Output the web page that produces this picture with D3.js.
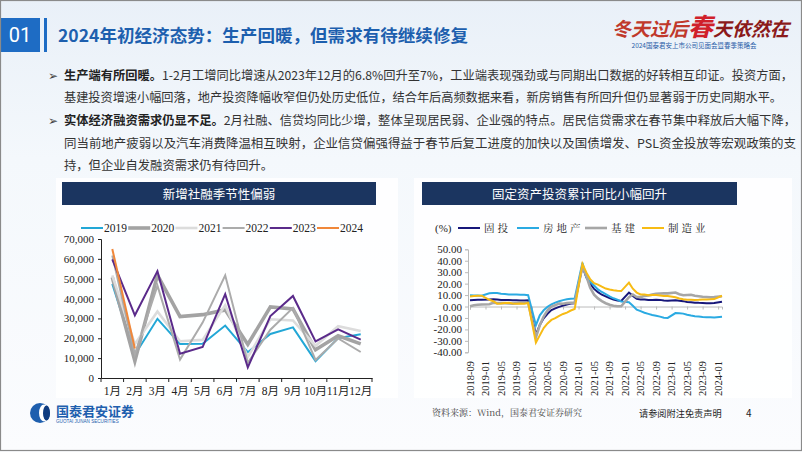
<!DOCTYPE html>
<html lang="zh">
<head>
<meta charset="UTF-8">
<title>2024年初经济态势</title>
<script src="https://d3js.org/d3.v7.min.js"></script>
<style>
  body { margin: 0; background: #fff; }
  svg { display: block; font-family: "Noto Sans CJK SC", sans-serif; }
</style>
</head>
<body>
<div id="slide"></div>
<script>
// ---- left chart: 新增社融 (亿元) ----
const monthLabels = ["1月","2月","3月","4月","5月","6月","7月","8月","9月","10月","11月","12月"];
const tsfYears = ["2019","2020","2021","2022","2023","2024"];
const tsf2019 = [47400, 11700, 29800, 17100, 17200, 26400, 13000, 22200, 25500, 8500, 20100, 22000];
const tsf2020 = [50700, 8600, 51800, 30900, 31900, 34300, 16900, 35800, 34800, 14200, 21300, 17200];
const tsf2021 = [51700, 17100, 33500, 18500, 19200, 36700, 10600, 29600, 29000, 16200, 26100, 23700];
const tsf2022 = [61700, 11900, 46500, 9300, 27900, 51700, 7600, 24300, 35300, 9100, 19900, 13100];
const tsf2023 = [59800, 31600, 53800, 12200, 15600, 42200, 5300, 31200, 41300, 18400, 24500, 19300];
const tsf2024 = [65000, 14900];

// ---- right chart: 固定资产投资累计同比 (%) ----
const faiDates = [
  "2018-09","2018-10","2018-11","2018-12",
  "2019-02","2019-03","2019-04","2019-05","2019-06","2019-07","2019-08","2019-09","2019-10","2019-11","2019-12",
  "2020-02","2020-03","2020-04","2020-05","2020-06","2020-07","2020-08","2020-09","2020-10","2020-11","2020-12",
  "2021-02","2021-03","2021-04","2021-05","2021-06","2021-07","2021-08","2021-09","2021-10","2021-11","2021-12",
  "2022-02","2022-03","2022-04","2022-05","2022-06","2022-07","2022-08","2022-09","2022-10","2022-11","2022-12",
  "2023-02","2023-03","2023-04","2023-05","2023-06","2023-07","2023-08","2023-09","2023-10","2023-11","2023-12",
  "2024-02"
];
const faiTotal = [5.4,5.7,5.9,5.9, 6.1,6.3,6.1,5.6,5.8,5.7,5.5,5.4,5.2,5.2,5.4,
  -24.5,-16.1,-10.3,-6.3,-3.1,-1.6,-0.3,0.8,1.8,2.6,2.9,
  35.0,25.6,19.9,15.4,12.6,10.3,8.9,7.3,6.1,5.2,4.9,
  12.2,9.3,6.8,6.2,6.1,5.7,5.8,5.9,5.8,5.3,5.1,
  5.5,5.1,4.7,4.0,3.8,3.4,3.2,3.1,2.9,2.9,3.0, 4.2];
const faiRealEstate = [9.9,9.7,9.7,9.5, 11.6,11.8,11.9,11.2,10.9,10.6,10.5,10.5,10.3,10.2,9.9,
  -16.3,-7.7,-3.3,-0.3,1.9,3.4,4.6,5.6,6.3,6.8,7.0,
  38.3,25.6,21.6,18.3,15.0,12.7,10.9,8.8,7.2,6.0,4.4,
  3.7,0.7,-2.7,-4.0,-5.4,-6.4,-7.4,-8.0,-8.8,-9.8,-10.0,
  -5.7,-5.8,-6.2,-7.2,-7.9,-8.5,-8.8,-9.1,-9.3,-9.4,-9.6, -9.0];
const faiInfra = [0.3,1.1,1.5,1.8, 2.0,3.3,3.0,3.1,3.0,2.6,2.5,3.0,3.2,3.3,3.3,
  -26.9,-16.4,-8.8,-3.3,-0.1,1.2,2.5,2.4,3.0,3.3,3.4,
  35.0,26.8,16.4,10.4,7.1,4.7,2.9,1.5,0.7,0.2,0.2,
  8.1,10.5,8.3,8.2,9.3,9.6,10.4,11.2,11.4,11.6,11.5,
  12.2,10.8,9.8,10.1,10.2,9.4,9.0,8.6,8.3,8.0,8.2, 9.0];
const faiManufacturing = [8.7,9.1,9.5,9.5, 5.9,4.6,2.5,2.7,3.0,3.3,2.6,2.5,2.6,2.5,3.1,
  -31.5,-25.2,-18.8,-14.8,-11.7,-10.2,-8.1,-6.5,-5.3,-3.5,-2.2,
  37.3,29.8,23.8,20.4,19.2,17.3,15.7,14.8,14.2,13.7,13.5,
  20.9,15.6,12.2,10.6,10.4,9.9,10.0,10.1,9.7,9.3,9.1,
  8.1,7.0,6.4,6.0,6.0,5.7,5.9,6.2,6.2,6.3,6.5, 9.4];
const faiNames = ["固投","房地产","基建","制造业"];
const faiTickLabels = ["2018-09","2019-01","2019-05","2019-09","2020-01","2020-05","2020-09",
  "2021-01","2021-05","2021-09","2022-01","2022-05","2022-09","2023-01","2023-05","2023-09","2024-01"];

// ---- slide text ----
const titleText = "2024年初经济态势：生产回暖，但需求有待继续修复";
const bullets = [
  { bold: "生产端有所回暖。", rest: "1-2月工增同比增速从2023年12月的6.8%回升至7%，工业端表现强劲或与同期出口数据的好转相互印证。投资方面，", len: 729, y: 80, mark: true },
  { bold: "", rest: "基建投资增速小幅回落，地产投资降幅收窄但仍处历史低位，结合年后高频数据来看，新房销售有所回升但仍显著弱于历史同期水平。", len: 718, y: 102 },
  { bold: "实体经济融资需求仍显不足。", rest: "2月社融、信贷均同比少增，整体呈现居民弱、企业强的特点。居民信贷需求在春节集中释放后大幅下降，", len: 732, y: 125, mark: true },
  { bold: "", rest: "同当前地产疲弱以及汽车消费降温相互映射，企业信贷偏强得益于春节后复工进度的加快以及国债增发、PSL资金投放等宏观政策的支", len: 732, y: 148 },
  { bold: "", rest: "持，但企业自发融资需求仍有待回升。", len: null, y: 170 }
];

const W = 802, H = 452;
const svg = d3.select("#slide").append("svg").attr("width", W).attr("height", H);

// background
const defs = svg.append("defs");
const bg = defs.append("linearGradient").attr("id", "bg").attr("x1", 0).attr("y1", 0).attr("x2", 0).attr("y2", 1);
bg.append("stop").attr("offset", "0%").attr("stop-color", "#e9f0f8");
bg.append("stop").attr("offset", "35%").attr("stop-color", "#f4f8fc");
bg.append("stop").attr("offset", "100%").attr("stop-color", "#fbfcfe");
svg.append("rect").attr("width", W).attr("height", H).attr("fill", "url(#bg)");

// header
svg.append("rect").attr("x", 0).attr("y", 18).attr("width", 40).attr("height", 34).attr("fill", "#1e6cc4");
svg.append("text").attr("x", 20).attr("y", 42).attr("text-anchor", "middle")
  .attr("fill", "#fff").attr("font-size", 20).attr("font-family", "Roboto, sans-serif").text("01");
svg.append("rect").attr("x", 44).attr("y", 18).attr("width", 3).attr("height", 34).attr("fill", "#1e6cc4");
svg.append("text").attr("x", 58).attr("y", 42).attr("fill", "#1d5fae")
  .attr("font-size", 17).attr("font-weight", "bold")
  .attr("textLength", 410).attr("lengthAdjust", "spacingAndGlyphs").text(titleText);

// logo top-right
const logo = svg.append("g").attr("transform", "translate(612,12)");
logo.append("text").attr("x", 0).attr("y", 24).attr("font-size", 21).attr("font-style", "italic")
  .attr("font-weight", "bold").attr("font-family", "'Noto Sans CJK SC', serif")
  .selectAll("tspan").data([["冬天过后", "#c0392b"], ["春", "#d0202a"], ["天依然在", "#8b1a1a"]])
  .join("tspan").attr("fill", d => d[1]).attr("font-size", (d, i) => i === 1 ? 25 : 19).text(d => d[0]);
logo.append("text").attr("x", 82).attr("y", 36).attr("text-anchor", "middle").attr("font-size", 6.5)
  .attr("fill", "#2a5da8").text("2024国泰君安上市公司见面会暨春季策略会");

// bullet text
bullets.forEach(b => {
  if (b.mark) {
    svg.append("text").attr("x", 48).attr("y", b.y).attr("font-size", 12).attr("fill", "#444").text("➢");
  }
  const t = svg.append("text").attr("x", 64).attr("y", b.y).attr("font-size", 12.3).attr("fill", "#333");
  if (b.len) t.attr("textLength", b.len).attr("lengthAdjust", "spacingAndGlyphs");
  if (b.bold) t.append("tspan").attr("font-weight", "bold").attr("fill", "#222").text(b.bold);
  t.append("tspan").text(b.rest);
});

// chart panels
[[56, 178, 342, 220], [414, 178, 378, 220]].forEach(p => {
  svg.append("rect").attr("x", p[0]).attr("y", p[1]).attr("width", p[2]).attr("height", p[3])
    .attr("fill", "#ffffff").attr("opacity", 0.85);
});
function titleBar(x, w, label) {
  svg.append("rect").attr("x", x).attr("y", 182).attr("width", w).attr("height", 23).attr("fill", "#1b3560");
  svg.append("text").attr("x", x + w / 2).attr("y", 198.5).attr("text-anchor", "middle")
    .attr("fill", "#fff").attr("font-size", 12.5).text(label);
}
titleBar(62, 314, "新增社融季节性偏弱");
titleBar(422, 315, "固定资产投资累计同比小幅回升");

// ================= left chart =================
const serif = "'Liberation Serif', 'Noto Sans CJK SC', serif";
const tsfSeries = [tsf2019, tsf2020, tsf2021, tsf2022, tsf2023, tsf2024];
const tsfColors = ["#22a7d6", "#a3a3a3", "#dcdcdc", "#ababab", "#5a2a8a", "#f0873a"];
const tsfWidths = [2, 3.6, 2.6, 2, 2, 2];

const x = d3.scaleBand().domain(monthLabels).range([101, 372]);
const y = d3.scaleLinear().domain([0, 70000]).range([378, 239]);

const gL = svg.append("g");
const yAx = gL.append("g").attr("transform", "translate(101,0)")
  .call(d3.axisLeft(y).tickValues(d3.range(0, 70001, 10000)).tickFormat(d3.format(",")).tickSize(3).tickPadding(4));
yAx.selectAll("text").attr("font-family", serif).attr("font-size", 11).attr("fill", "#222");
yAx.selectAll("line, path").attr("stroke", "#222");

const xAx = gL.append("g").attr("transform", "translate(0,378)")
  .call(d3.axisBottom(x).tickSize(0).tickPadding(9));
xAx.select("path").attr("stroke", "#222");
xAx.selectAll("text").attr("font-family", serif).attr("font-size", 11.5).attr("fill", "#222");
// excel-style ticks between the categories
gL.append("g").selectAll("line").data(monthLabels.concat(["end"])).join("line")
  .attr("x1", d => d === "end" ? x.range()[1] : x(d))
  .attr("x2", d => d === "end" ? x.range()[1] : x(d))
  .attr("y1", 378).attr("y2", 382).attr("stroke", "#222");

const lineL = d3.line().x((d, i) => x(monthLabels[i]) + x.bandwidth() / 2).y(d => y(d));
gL.selectAll("path.tsf").data(tsfSeries).join("path").attr("class", "tsf")
  .attr("d", lineL).attr("fill", "none")
  .attr("stroke", (d, i) => tsfColors[i]).attr("stroke-width", (d, i) => tsfWidths[i])
  .attr("stroke-linejoin", "miter");

const legL = gL.append("g").selectAll("g").data(tsfYears).join("g")
  .attr("transform", (d, i) => `translate(${81 + i * 47.2},228)`);
legL.append("line").attr("x1", 0).attr("x2", 22)
  .attr("stroke", (d, i) => tsfColors[i]).attr("stroke-width", (d, i) => tsfWidths[i]);
legL.append("text").attr("x", 23).attr("y", 4).attr("font-family", serif).attr("font-size", 11.5)
  .attr("fill", "#222").text(d => d);

// ================= right chart =================
const faiSeries = [faiTotal, faiRealEstate, faiInfra, faiManufacturing];
const faiColors = ["#17177a", "#2aaae2", "#a6a6a6", "#f7bb14"];
const faiWidths = [2, 2, 2.6, 2];
const monthIndex = s => (+s.slice(0, 4) - 2018) * 12 + (+s.slice(5, 7) - 9);

const xr = d3.scaleLinear().domain([0, 65]).range([470, 722]);
const yr = d3.scaleLinear().domain([-40, 50]).range([352.3, 249.3]);

const gR = svg.append("g");
const yAxR = gR.append("g").attr("transform", "translate(468,0)")
  .call(d3.axisLeft(yr).tickValues(d3.range(-40, 51, 10)).tickFormat(d3.format(".2f")).tickSize(3).tickPadding(3));
yAxR.selectAll("text").attr("font-family", serif).attr("font-size", 11).attr("fill", "#222")
  .text(d => d < 0 ? "-" + Math.abs(d).toFixed(2) : d.toFixed(2));
yAxR.selectAll("line, path").attr("stroke", "#bbb");

const xAxR = gR.append("g").attr("transform", `translate(0,${yr(0)})`)
  .call(d3.axisBottom(xr).tickValues(faiTickLabels.map(monthIndex)).tickSize(3).tickFormat(""));
xAxR.selectAll("line, path").attr("stroke", "#bbb");
gR.append("g").selectAll("text").data(faiTickLabels).join("text")
  .attr("transform", d => `translate(${xr(monthIndex(d)) + 3.5},361) rotate(-90)`)
  .attr("text-anchor", "end").attr("font-family", serif).attr("font-size", 10.5).attr("fill", "#222")
  .text(d => d);

const lineR = d3.line().x((d, i) => xr(monthIndex(faiDates[i]))).y(d => yr(d));
gR.selectAll("path.fai").data(faiSeries).join("path").attr("class", "fai")
  .attr("d", lineR).attr("fill", "none")
  .attr("stroke", (d, i) => faiColors[i]).attr("stroke-width", (d, i) => faiWidths[i]);

const kai = "'Noto Serif CJK SC', 'Noto Sans CJK SC', serif";
gR.append("text").attr("x", 435).attr("y", 232).attr("font-family", serif).attr("font-size", 11)
  .attr("fill", "#222").text("(%)");
const legPos = [458, 517, 585, 642];
const legR = gR.append("g").selectAll("g").data(faiNames).join("g")
  .attr("transform", (d, i) => `translate(${legPos[i]},228)`);
legR.append("line").attr("x1", 0).attr("x2", 22)
  .attr("stroke", (d, i) => faiColors[i]).attr("stroke-width", (d, i) => faiWidths[i]);
legR.append("text").attr("x", 26).attr("y", 4).attr("font-family", kai).attr("font-size", 10.5)
  .attr("letter-spacing", 3).attr("fill", "#222").text(d => d);

// ================= footer =================
const foot = svg.append("g");
foot.append("circle").attr("cx", 40).attr("cy", 413).attr("r", 10).attr("fill", "#1e5fae");
foot.append("ellipse").attr("cx", 44).attr("cy", 413).attr("rx", 5).attr("ry", 8.5).attr("fill", "#fff");
foot.append("ellipse").attr("cx", 46.5).attr("cy", 413).attr("rx", 3.5).attr("ry", 7.5).attr("fill", "#0f3c80");
foot.append("text").attr("x", 56).attr("y", 416).attr("font-size", 13).attr("font-weight", "bold")
  .attr("fill", "#1e5fae").text("国泰君安证券");
foot.append("text").attr("x", 56).attr("y", 423).attr("font-size", 4.6).attr("fill", "#1e5fae")
  .attr("font-family", "'Liberation Sans', sans-serif").text("GUOTAI JUNAN SECURITIES");
foot.append("text").attr("x", 432).attr("y", 416).attr("font-size", 9).attr("font-family", kai)
  .attr("fill", "#444").text("资料来源：Wind，国泰君安证券研究");
foot.append("text").attr("x", 639).attr("y", 417).attr("font-size", 9.2).attr("fill", "#222").text("请参阅附注免责声明");
foot.append("text").attr("x", 746).attr("y", 417).attr("font-size", 10).attr("fill", "#222").text("4");

// slide frame
svg.append("rect").attr("x", 0.5).attr("y", 0.5).attr("width", W - 1).attr("height", H - 2)
  .attr("fill", "none").attr("stroke", "#8a8a8a").attr("stroke-width", 1.2);
</script>
</body>
</html>
